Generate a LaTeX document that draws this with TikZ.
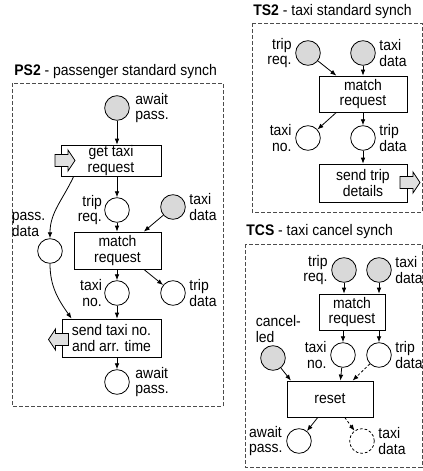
\documentclass[tikz,border=0pt]{standalone}
\usepackage{fontspec}
\setmainfont{Liberation Sans}[FakeStretch=0.91]
\usetikzlibrary{positioning,arrows.meta,calc}

\begin{document}
\begin{tikzpicture}[x=0.75pt, y=-0.75pt,
    font=\fontsize{11.5}{11.5}\selectfont,
    >={Latex[length=4.5pt,width=3.5pt]}, line width=0.6pt,
    place/.style={draw, circle, minimum size=18.5pt, inner sep=0pt},
    token/.style={place, fill=black!15},
    trans/.style={draw, rectangle, fill=white, align=center, inner sep=0.5pt},
    lbl/.style={align=left, inner sep=0pt},
    lblr/.style={align=right, inner sep=0pt},
    frame/.style={draw=black!70, dash pattern=on 3pt off 1.5pt, line width=0.5pt},
    title/.style={anchor=west, inner sep=0pt},
    port/.pic={\draw[fill=black!12] (-10,-6) -- (3,-6) -- (3,-10.5) -- (10,0)
        -- (3,10.5) -- (3,6) -- (-10,6) -- cycle;},
    node distance=2.5pt]
    \useasboundingbox (0,0) rectangle (423,471);

    % PS2
    \node[title] (PStitle) at (14,72) {\textbf{PS2} - passenger standard synch};
    \draw[frame] (12,83) rectangle (223,406);
    \node[token] (PSawait) at (117,108) {};
    \node[trans, minimum width=75pt, minimum height=21.75pt] (PSget) at (111,160.5) {get taxi\\request};
    \pic at (65,160.5) {port};
    \node[place] (PStrip) at (117,210) {};
    \node[token] (PStaxi) at (173,207) {};
    \node[place] (PSpass) at (50,251) {};
    \node[trans, minimum width=65.25pt, minimum height=27.75pt] (PSmatch) at (117.5,250.5) {match\\request};
    \node[place] (PSno) at (117,293) {};
    \node[place] (PStripd) at (173,293) {};
    \node[trans, minimum width=74.25pt, minimum height=28.5pt] (PSsend) at (111.5,338) {send taxi no.\\and arr. time};
    \pic[rotate=180] at (58.5,339.5) {port};
    \node[place] (PSawait2) at (117,382) {};

    \node[lbl, right=4pt of PSawait] {await\\pass.};
    \node[lblr, left=1.5pt of PStrip] {trip\\req.};
    \node[lbl, right=of PStaxi] {taxi\\data};
    \node[lbl, above left=4pt and -3.5pt of PSpass] {pass.\\data};
    \node[lblr, left=1.5pt of PSno] {taxi\\no.};
    \node[lbl, right=of PStripd] {trip\\data};
    \node[lbl, right=4pt of PSawait2] {await\\pass.};

    \draw[->] (PSawait) -- (PSget.north -| PSawait);
    \draw[->] (PSget.south -| PStrip) -- (PStrip);
    \draw[->] (PStrip) -- (PSmatch.north -| PStrip);
    \draw[->] (PStaxi) -- ($(PSmatch.north)!0.6!(PSmatch.north east)$);
    \draw[->] ($(PSget.south west)!0.13!(PSget.south east)$) to[out=-115, in=90] (PSpass);
    \draw[->] (PSpass) to[out=-90, in=125] ($(PSsend.north west)!0.1!(PSsend.north east)$);
    \draw[->] (PSmatch.south -| PSno) -- (PSno);
    \draw[->] ($(PSmatch.south)!0.6!(PSmatch.south east)$) -- (PStripd);
    \draw[->] (PSno) -- (PSsend.north -| PSno);
    \draw[->] (PSsend.south -| PSawait2) -- (PSawait2);

    % TS2
    \node[title] (TStitle) at (253,12) {\textbf{TS2} - taxi standard synch};
    \draw[frame] (252,23) rectangle (422,212);
    \node[token] (TStrip) at (308,53) {};
    \node[token] (TStaxi) at (363,53) {};
    \node[trans, minimum width=66pt, minimum height=27pt] (TSmatch) at (363,94) {match\\request};
    \node[place] (TSno) at (308,138) {};
    \node[place] (TStripd) at (363,138) {};
    \node[trans, minimum width=66pt, minimum height=28.5pt] (TSsend) at (363,183) {send trip\\details};
    \pic at (410,182.5) {port};

    \node[lblr, left=of TStrip] {trip\\req.};
    \node[lbl, right=of TStaxi] {taxi\\data};
    \node[lblr, left=of TSno] {taxi\\no.};
    \node[lbl, right=of TStripd] {trip\\data};

    \draw[->] (TStrip) -- ($(TSmatch.north west)!0.2!(TSmatch.north east)$);
    \draw[->] (TStaxi) -- (TSmatch.north -| TStaxi);
    \draw[->] ($(TSmatch.south west)!0.2!(TSmatch.south east)$) -- (TSno);
    \draw[->] (TSmatch.south -| TStripd) -- (TStripd);
    \draw[->] (TStripd) -- (TSsend.north -| TStripd);

    % TCS
    \node[title] (TCtitle) at (246,232) {\textbf{TCS} - taxi cancel synch};
    \draw[frame] (245,244) rectangle (422,467);
    \node[token] (TCtrip) at (344,270) {};
    \node[token] (TCtaxi) at (379,270) {};
    \node[trans, minimum width=49.5pt, minimum height=27pt] (TCmatch) at (352,312) {match\\request};
    \node[place] (TCno) at (343,355) {};
    \node[place] (TCtripd) at (379,355) {};
    \node[token] (TCcancel) at (273,358) {};
    \node[trans, minimum width=64.5pt, minimum height=27pt] (TCreset) at (330,399) {reset};
    \node[place] (TCawait) at (299,441) {};
    \node[place, dash pattern=on 2pt off 1.5pt] (TCtaxi2) at (362,441) {};

    \node[lblr, left=of TCtrip] {trip\\req.};
    \node[lbl, right=of TCtaxi] {taxi\\data};
    \node[lbl, above=2pt of TCcancel, xshift=4pt] {cancel-\\led};
    \node[lblr, left=of TCno] {taxi\\no.};
    \node[lbl, right=of TCtripd] {trip\\data};
    \node[lbl, left=of TCawait] {await\\pass.};
    \node[lbl, right=of TCtaxi2] {taxi\\data};

    \draw[->] (TCtrip) -- (TCmatch.north -| TCtrip);
    \draw[->] (TCtaxi) -- (TCmatch.north -| TCtaxi);
    \draw[->] (TCmatch.south -| TCno) -- (TCno);
    \draw[->] (TCmatch.south -| TCtripd) -- (TCtripd);
    \draw[->] (TCcancel) -- ($(TCreset.north west)!0.05!(TCreset.north east)$);
    \draw[->] (TCno) -- ($(TCreset.north west)!0.62!(TCreset.north east)$);
    \draw[->, dash pattern=on 2pt off 1.5pt] (TCtripd) -- ($(TCreset.north west)!0.76!(TCreset.north east)$);
    \draw[->] ($(TCreset.south west)!0.36!(TCreset.south east)$) -- (TCawait);
    \draw[->, dash pattern=on 2pt off 1.5pt] ($(TCreset.south west)!0.67!(TCreset.south east)$) -- (TCtaxi2);
\end{tikzpicture}
\end{document}
